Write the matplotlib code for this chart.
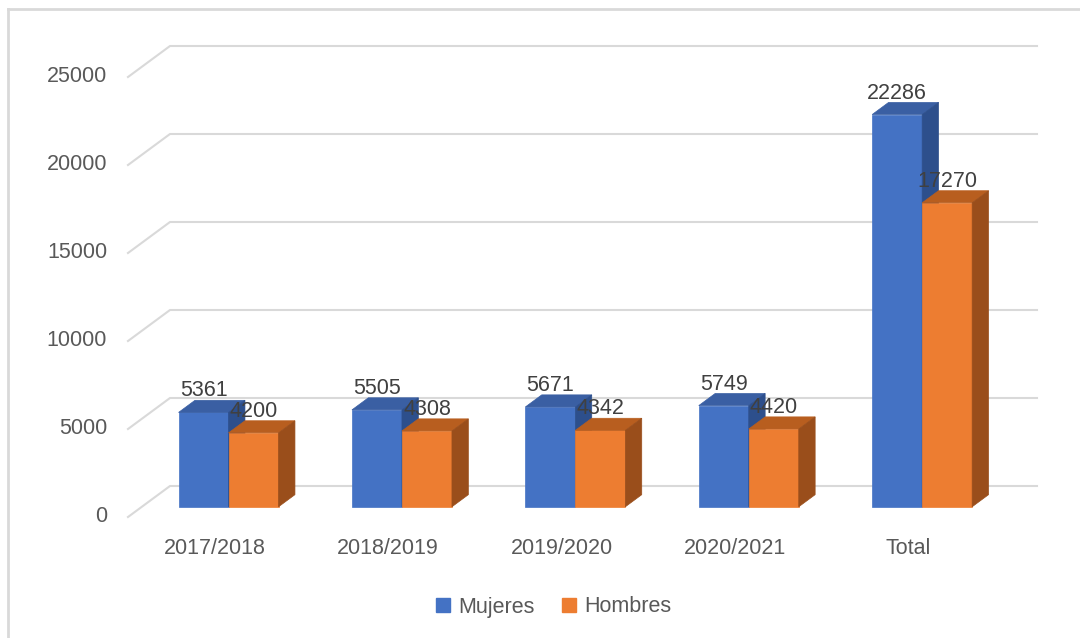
import matplotlib
matplotlib.use('Agg')
import matplotlib.pyplot as plt
import numpy as np
from matplotlib.patches import Polygon
from matplotlib.lines import Line2D

plt.rcParams['font.family'] = ['Liberation Sans', 'DejaVu Sans']

# datos
categorias = ['2017/2018', '2018/2019', '2019/2020', '2020/2021', 'Total']
mujeres = [5361, 5505, 5671, 5749, 22286]
hombres = [4200, 4308, 4342, 4420, 17270]
series = ['Mujeres', 'Hombres']
yticks = [0, 5000, 10000, 15000, 20000, 25000]

# colores (frente, arriba, lado)
azul = ('#4472C4', '#3A5FA3', '#2D4F8C')
naranja = ('#ED7D31', '#B85E1F', '#9A4E1B')
gris_texto = '#595959'
gris_etiq = '#404040'
gris_linea = '#D9D9D9'

# --- escala "3D" oblicua, en unidades de datos ---
W, H = 1080, 638
px_cat = 173.4          # px por categoria
px_val = 0.0176         # px por unidad
x0_px, y0_px = 214.7, 517   # centro cat 0 / valor 0 en el plano frontal
DX = 42 / px_cat        # profundidad total (pared del fondo)
DY = 31 / px_val
d0, dd = 0.33, 0.39     # profundidad de las barras
ancho = 50 / px_cat

fig = plt.figure(figsize=(W / 100, H / 100), dpi=100)
ax = fig.add_axes([0, 0, 1, 1])
ax.set_xlim((0 - x0_px) / px_cat, (W - x0_px) / px_cat)
ax.set_ylim(-(H - y0_px) / px_val, y0_px / px_val)
ax.axis('off')

# borde del grafico
fig.add_artist(Line2D([8 / W, 1], [1 - 8.5 / H, 1 - 8.5 / H], color=gris_linea, lw=2))
fig.add_artist(Line2D([8 / W, 8 / W], [0, 1 - 8.5 / H], color=gris_linea, lw=2))

n = len(categorias)
xl, xr = -0.5, n - 0.5
for v in yticks:
    # pared lateral + pared del fondo
    ax.plot([xl, xl + DX, xr + DX], [v, v + DY, v + DY], color=gris_linea, lw=1.5, zorder=1)
    ax.annotate(str(v), xy=(xl, v), xytext=(-15, 0), textcoords='offset points',
                ha='right', va='center', fontsize=15.5, color=gris_texto)

x = np.arange(n)
for i in range(n):
    for j, (vals, col) in enumerate([(mujeres, azul), (hombres, naranja)]):
        left = x[i] + d0 * DX + (j - 1) * ancho
        base = d0 * DY
        v = vals[i]
        ax.bar(left, v, width=ancho, bottom=base, align='edge', color=col[0],
               edgecolor=col[0], lw=0.5, zorder=3)
        top = base + v
        ax.add_patch(Polygon([(left, top), (left + ancho, top),
                              (left + ancho + dd * DX, top + dd * DY),
                              (left + dd * DX, top + dd * DY)],
                             closed=True, facecolor=col[1], edgecolor=col[1], lw=0.5, zorder=3))
        ax.add_patch(Polygon([(left + ancho, base), (left + ancho, top),
                              (left + ancho + dd * DX, top + dd * DY),
                              (left + ancho + dd * DX, base + dd * DY)],
                             closed=True, facecolor=col[2], edgecolor=col[2], lw=0.5, zorder=3))
        ax.annotate(str(v), xy=(left + ancho / 2, top), xytext=(0, 15.5),
                    textcoords='offset points', ha='center', va='center',
                    fontsize=15.5, color=gris_etiq, zorder=5)

for i, c in enumerate(categorias):
    ax.annotate(c, xy=(x[i], 0), xytext=(0, -23), textcoords='offset points',
                ha='center', va='center', fontsize=15.5, color=gris_texto)

handles = [Line2D([0], [0], marker='s', color='w', markerfacecolor=azul[0],
                  markeredgecolor=azul[0], markersize=10, label=series[0]),
           Line2D([0], [0], marker='s', color='w', markerfacecolor=naranja[0],
                  markeredgecolor=naranja[0], markersize=10, label=series[1])]
leg = fig.legend(handles=handles, loc='center', bbox_to_anchor=(553 / W, 1 - 607 / H),
                 ncol=2, frameon=False, fontsize=15.5, handlelength=0.8,
                 handletextpad=0.3, columnspacing=1.2)
for t in leg.get_texts():
    t.set_color(gris_texto)

fig.savefig('out.png', dpi=100)
